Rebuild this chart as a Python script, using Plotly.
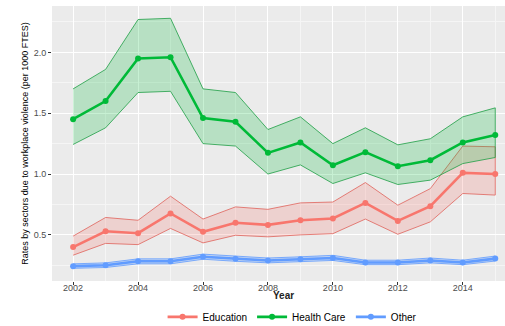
import plotly.graph_objects as go

years = list(range(2002, 2016))

edu_rate = [0.40, 0.53, 0.514, 0.676, 0.525, 0.60, 0.582, 0.62, 0.635, 0.763, 0.615, 0.736, 1.01, 1.00]
edu_low = [0.333, 0.43, 0.42, 0.553, 0.434, 0.497, 0.484, 0.50, 0.51, 0.63, 0.505, 0.607, 0.84, 0.827]
edu_high = [0.49, 0.643, 0.62, 0.818, 0.63, 0.73, 0.71, 0.763, 0.77, 0.93, 0.744, 0.88, 1.23, 1.224]

hc_rate = [1.451, 1.60, 1.95, 1.96, 1.46, 1.43, 1.174, 1.26, 1.072, 1.18, 1.064, 1.114, 1.26, 1.32]
hc_low = [1.243, 1.38, 1.67, 1.68, 1.25, 1.23, 1.00, 1.075, 0.922, 1.01, 0.914, 0.95, 1.086, 1.136]
hc_high = [1.70, 1.86, 2.27, 2.28, 1.70, 1.67, 1.366, 1.47, 1.25, 1.38, 1.24, 1.29, 1.47, 1.544]

oth_rate = [0.243, 0.25, 0.283, 0.283, 0.32, 0.303, 0.29, 0.30, 0.31, 0.273, 0.273, 0.29, 0.273, 0.305]
oth_low = [0.225, 0.232, 0.262, 0.262, 0.30, 0.283, 0.27, 0.28, 0.29, 0.255, 0.255, 0.27, 0.255, 0.285]
oth_high = [0.262, 0.27, 0.303, 0.303, 0.342, 0.323, 0.31, 0.32, 0.332, 0.292, 0.292, 0.31, 0.292, 0.326]

sectors = [
    ("Education", edu_rate, edu_low, edu_high, "#F8766D", "rgba(248,118,109,0.22)", "#E0625A"),
    ("Health Care", hc_rate, hc_low, hc_high, "#00BA38", "rgba(0,186,56,0.22)", "#1E9E45"),
    ("Other", oth_rate, oth_low, oth_high, "#619CFF", "rgba(97,156,255,0.30)", "#619CFF"),
]

fig = go.Figure()

# confidence ribbons first, so the lines sit on top
for name, rate, low, high, col, fill, edge in sectors:
    fig.add_trace(go.Scatter(
        x=years + years[::-1], y=high + low[::-1],
        fill="toself", fillcolor=fill, mode="lines",
        line=dict(color=edge, width=0.8),
        showlegend=False, hoverinfo="skip", legendgroup=name,
    ))

for name, rate, low, high, col, fill, edge in sectors:
    fig.add_trace(go.Scatter(
        x=years, y=rate, mode="lines+markers", name=name,
        line=dict(color=col, width=2.6),
        marker=dict(color=col, size=6),
        legendgroup=name,
    ))

fig.update_layout(
    width=505, height=326,
    margin=dict(l=52, r=0, t=6, b=45),
    paper_bgcolor="white",
    plot_bgcolor="#EBEBEB",
    font=dict(family="Liberation Sans, Arial, sans-serif", size=10, color="#4D4D4D"),
    showlegend=True,
    legend=dict(orientation="h", x=0.53, xanchor="center",
                yref="container", y=0.028, yanchor="middle",
                font=dict(size=10, color="black"), itemwidth=30,
                bgcolor="rgba(0,0,0,0)"),
    annotations=[dict(text="<b>Year</b>", xref="paper", yref="paper",
                      x=0.51, y=-0.053, xanchor="center", yanchor="middle",
                      showarrow=False, font=dict(size=10, color="#222222"))],
)

fig.update_xaxes(
    range=[2001.35, 2015.3],
    tickvals=[2002, 2004, 2006, 2008, 2010, 2012, 2014],
    showgrid=True, gridcolor="white", gridwidth=1.1,
    minor=dict(dtick=1, tick0=2001, showgrid=True, gridcolor="#F5F5F5", gridwidth=0.6),
    zeroline=False, showline=False, automargin=False,
    ticks="outside", ticklen=3, tickcolor="#333333",
    ticklabelstandoff=-5,
    tickfont=dict(size=9, color="#4D4D4D"),
)

fig.update_yaxes(
    range=[0.121, 2.381],
    tickvals=[0.5, 1.0, 1.5, 2.0],
    ticktext=["0.5", "1.0", "1.5", "2.0"],
    showgrid=True, gridcolor="white", gridwidth=1.1,
    minor=dict(dtick=0.25, tick0=0.25, showgrid=True, gridcolor="#F5F5F5", gridwidth=0.6),
    zeroline=False, showline=False, automargin=False,
    ticks="outside", ticklen=3, tickcolor="#333333",
    tickfont=dict(size=9, color="#4D4D4D"),
    title=dict(text="Rates by sectors due to workplace violence (per 1000 FTES)",
               font=dict(size=9, color="black"), standoff=3),
)

fig.write_html("out.html")
